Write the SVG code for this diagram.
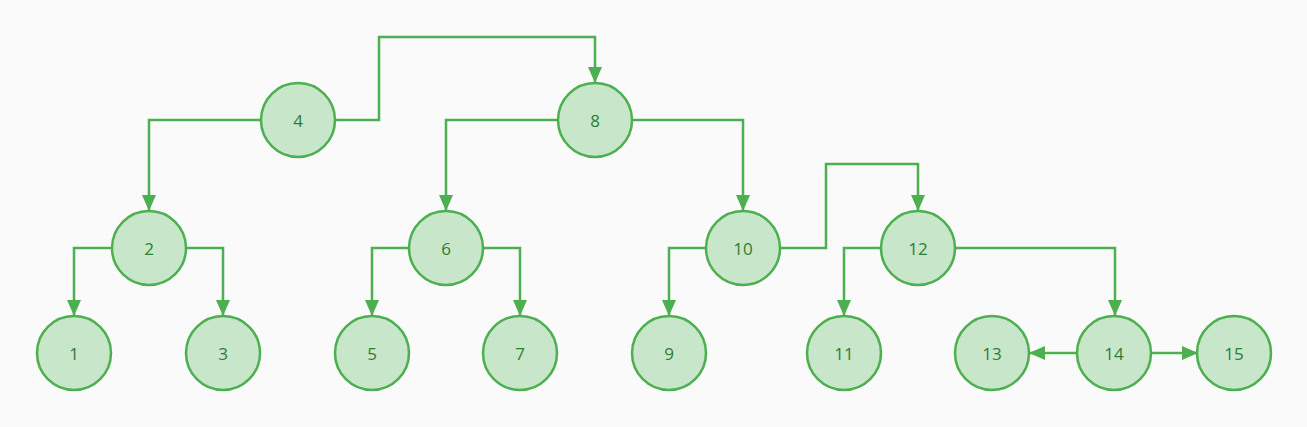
<svg xmlns="http://www.w3.org/2000/svg" width="1307" height="427" viewBox="0 0 1307 427">
<style>
.n circle{fill:#c8e6c9;stroke:#4caf50;stroke-width:2.5}
.n text{font-family:"Open Sans","Noto Sans",sans-serif;font-size:17px;fill:#2e7d32;text-anchor:middle;dominant-baseline:central}
.e path{fill:none;stroke:#4caf50;stroke-width:2.5;marker-end:url(#a)}
</style>
<defs>
<marker id="a" markerUnits="userSpaceOnUse" markerWidth="16" markerHeight="16" viewBox="0 0 16 16" refX="15" refY="8" orient="auto">
<path d="M0,1 L16,8 L0,15 Z" fill="#4caf50"/>
</marker>
</defs>
<rect width="1307" height="427" fill="#fafafa"/>
<g class="e" id="connectors">
<path d="M261,120 H149 V210"/>
<path d="M335,120 H379 V37 H595 V82"/>
<path d="M558,120 H446 V210"/>
<path d="M632,120 H743 V210"/>
<path d="M112,248 H74 V315"/>
<path d="M186,248 H223 V315"/>
<path d="M409,248 H372 V315"/>
<path d="M483,248 H520 V315"/>
<path d="M706,248 H669 V315"/>
<path d="M780,248 H826 V164 H918 V210"/>
<path d="M881,248 H844 V315"/>
<path d="M955,248 H1115 V315"/>
<path d="M1076,353 H1030"/>
<path d="M1151,353 H1197"/>
</g>
<g class="n" id="n4"><circle cx="298" cy="120" r="37"/><text x="298" y="120">4</text></g>
<g class="n" id="n8"><circle cx="595" cy="120" r="37"/><text x="595" y="120">8</text></g>
<g class="n" id="n2"><circle cx="149" cy="248" r="37"/><text x="149" y="248">2</text></g>
<g class="n" id="n6"><circle cx="446" cy="248" r="37"/><text x="446" y="248">6</text></g>
<g class="n" id="n10"><circle cx="743" cy="248" r="37"/><text x="743" y="248">10</text></g>
<g class="n" id="n12"><circle cx="918" cy="248" r="37"/><text x="918" y="248">12</text></g>
<g class="n" id="n1"><circle cx="74" cy="353" r="37"/><text x="74" y="353">1</text></g>
<g class="n" id="n3"><circle cx="223" cy="353" r="37"/><text x="223" y="353">3</text></g>
<g class="n" id="n5"><circle cx="372" cy="353" r="37"/><text x="372" y="353">5</text></g>
<g class="n" id="n7"><circle cx="520" cy="353" r="37"/><text x="520" y="353">7</text></g>
<g class="n" id="n9"><circle cx="669" cy="353" r="37"/><text x="669" y="353">9</text></g>
<g class="n" id="n11"><circle cx="844" cy="353" r="37"/><text x="844" y="353">11</text></g>
<g class="n" id="n13"><circle cx="992" cy="353" r="37"/><text x="992" y="353">13</text></g>
<g class="n" id="n14"><circle cx="1114" cy="353" r="37"/><text x="1114" y="353">14</text></g>
<g class="n" id="n15"><circle cx="1234" cy="353" r="37"/><text x="1234" y="353">15</text></g>
</svg>
